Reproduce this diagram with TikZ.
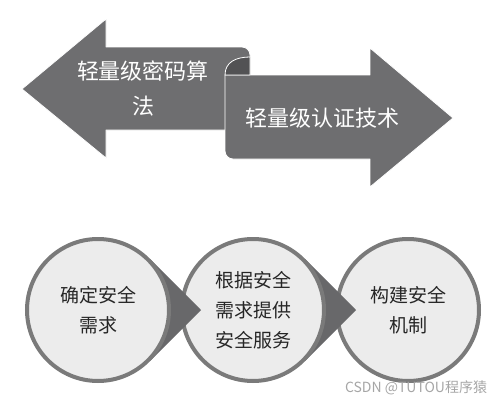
\documentclass[tikz,border=0pt]{standalone}
\usepackage{fontspec}
\setmainfont{Noto Sans CJK SC}
\usetikzlibrary{positioning}
\definecolor{arrowgray}{RGB}{110,110,112}
\definecolor{curlgray}{RGB}{82,82,84}
\definecolor{ringgray}{RGB}{122,122,122}
\definecolor{pointgray}{RGB}{104,104,106}
\definecolor{fillgray}{RGB}{236,236,236}
\definecolor{textgray}{RGB}{38,38,38}
\tikzstyle{bigarrow} = [fill=arrowgray, draw=white, line width=0.8pt, line join=round]
\tikzstyle{arrowtext} = [text=white, align=center, font=\fontsize{22}{35}\selectfont]
\tikzstyle{stepcircle} = [circle, draw=ringgray, line width=4pt, fill=fillgray, minimum size=142pt, inner sep=0pt, align=center, text=textgray, font=\fontsize{19}{30}\selectfont]
\tikzstyle{pointer} = [fill=pointgray]

\begin{document}
\begin{tikzpicture}[x=1pt, y=1pt, node distance=155pt]
\useasboundingbox (0,0) rectangle (499,-402);

% two arrows
\draw[bigarrow] (22,-89) -- (106,-19) -- (106,-47) -- (242,-47) arc (90:0:8) -- (250,-130) -- (106,-130) -- (106,-158) -- cycle;
\draw[bigarrow] (225,-75) -- (370,-75) -- (370,-48) -- (453,-118) -- (370,-187) -- (370,-159) -- (233,-159) arc (270:180:8) -- cycle;
\draw[bigarrow, fill=curlgray] (250,-57) .. controls (236,-57) and (225,-62) .. (225,-75) -- (250,-75) -- cycle;

\node (alg) [arrowtext] at (143,-89) {轻量级密码算\\法};
\node (auth) [arrowtext] at (322,-118) {轻量级认证技术};

% three steps
\coordinate (o1) at (98,-310);
\coordinate[right=of o1] (o2);
\coordinate[right=of o2] (o3);

\node (c3) [stepcircle] at (o3) {构建安全\\机制};
\fill[pointer] ([shift={(45:73)}]o2) -- ([shift={(103,0)}]o2) -- ([shift={(-45:73)}]o2) -- cycle;
\node (c2) [stepcircle] at (o2) {根据安全\\需求提供\\安全服务};
\fill[pointer] ([shift={(45:73)}]o1) -- ([shift={(103,0)}]o1) -- ([shift={(-45:73)}]o1) -- cycle;
\node (c1) [stepcircle] at (o1) {确定安全\\需求};

\node (mark) [text=gray!70, font=\fontsize{14}{14}\selectfont] at (416,-388) {CSDN @TUTOU程序猿};
\end{tikzpicture}
\end{document}
